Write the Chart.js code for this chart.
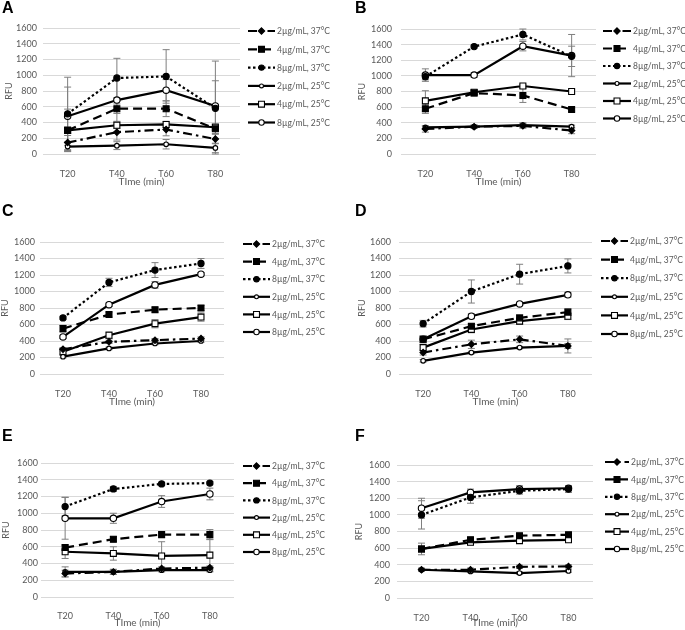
<!DOCTYPE html>
<html>
<head>
<meta charset="utf-8">
<script src="https://cdn.jsdelivr.net/npm/chart.js@4.4.0/dist/chart.umd.min.js"></script>
<style>
  body { margin: 0; background: #fff; width: 685px; height: 630px; position: relative; overflow: hidden; }
  .panel { position: absolute; width: 342px; height: 210px; }
  .letter { position: absolute; font-family: "Liberation Sans", Arial, sans-serif; font-weight: bold; font-size: 16px; line-height: 16px; color: #000; }
</style>
</head>
<body>
<canvas id="chartA" class="panel" width="342" height="210" style="left:0;top:0"></canvas>
<canvas id="chartB" class="panel" width="342" height="210" style="left:343px;top:0"></canvas>
<canvas id="chartC" class="panel" width="342" height="210" style="left:0;top:210px"></canvas>
<canvas id="chartD" class="panel" width="342" height="210" style="left:343px;top:210px"></canvas>
<canvas id="chartE" class="panel" width="342" height="210" style="left:0;top:420px"></canvas>
<canvas id="chartF" class="panel" width="342" height="210" style="left:343px;top:420px"></canvas>
<div class="letter" style="left:2px;top:0">A</div>
<div class="letter" style="left:355px;top:0">B</div>
<div class="letter" style="left:2px;top:203px">C</div>
<div class="letter" style="left:355px;top:203px">D</div>
<div class="letter" style="left:2px;top:428px">E</div>
<div class="letter" style="left:355px;top:428px">F</div>
<script>
const timePoints = ["T20", "T40", "T60", "T80"];
const seriesNames = [
	"2µg/mL, 37°C",
	"4µg/mL, 37°C",
	"8µg/mL, 37°C",
	"2µg/mL, 25°C",
	"4µg/mL, 25°C",
	"8µg/mL, 25°C",
];

// mean RFU, one row per series (same order as seriesNames)
const meansA = [
	[145, 277, 311, 190],
	[300, 575, 575, 320],
	[510, 965, 985, 580],
	[94, 106, 124, 77],
	[300, 365, 375, 340],
	[480, 685, 810, 610],
];
const errA = [
	[90, 100, 80, 60],
	[270, 60, 100, 60],
	[465, 250, 340, 600],
	[60, 50, 60, 60],
	[40, 40, 40, 40],
	[370, 270, 135, 320],
];

const meansB = [
	[320, 350, 360, 300],
	[580, 780, 750, 570],
	[990, 1375, 1530, 1250],
	[340, 350, 370, 350],
	[680, 790, 870, 800],
	[1010, 1010, 1380, 1260],
];
const errB = [
	[40, 20, 30, 40],
	[60, 40, 90, 20],
	[40, 20, 70, 130],
	[20, 20, 30, 20],
	[130, 30, 20, 20],
	[80, 30, 60, 270],
];

const meansC = [
	[300, 390, 410, 430],
	[550, 720, 780, 800],
	[680, 1110, 1260, 1340],
	[210, 310, 370, 400],
	[270, 470, 610, 690],
	[450, 840, 1080, 1210],
];
const errC = [
	[20, 20, 20, 20],
	[40, 30, 30, 30],
	[20, 50, 90, 60],
	[15, 15, 15, 15],
	[30, 40, 50, 50],
	[20, 20, 40, 20],
];

const meansD = [
	[260, 360, 420, 340],
	[420, 580, 680, 750],
	[610, 1000, 1210, 1310],
	[160, 260, 320, 340],
	[320, 540, 640, 700],
	[420, 700, 850, 960],
];
const errD = [
	[30, 50, 40, 30],
	[40, 30, 40, 40],
	[40, 140, 120, 85],
	[15, 15, 15, 85],
	[40, 40, 40, 40],
	[40, 30, 20, 30],
];

const meansE = [
	[280, 300, 340, 350],
	[590, 690, 745, 745],
	[1080, 1290, 1350, 1360],
	[300, 300, 320, 320],
	[540, 520, 490, 500],
	[940, 940, 1140, 1230],
];
const errE = [
	[40, 30, 20, 20],
	[30, 30, 30, 60],
	[110, 30, 20, 20],
	[60, 30, 20, 20],
	[80, 80, 170, 190],
	[250, 60, 70, 70],
];

const meansF = [
	[340, 340, 375, 380],
	[590, 700, 750, 760],
	[1000, 1210, 1290, 1310],
	[340, 320, 300, 325],
	[590, 670, 690, 700],
	[1080, 1270, 1310, 1320],
];
const errF = [
	[20, 20, 20, 20],
	[30, 30, 20, 20],
	[170, 70, 40, 40],
	[15, 15, 15, 15],
	[70, 30, 20, 20],
	[120, 40, 40, 30],
];

// series styling
const dashes = [[9, 4, 2.5, 4], [9, 5], [2.5, 2.5], [], [], []];
const markers = ["rectRot", "rect", "circle", "circle", "rect", "circle"];
const radii = [3.2, 4.2, 3.1, 2.3, 4.2, 3.2];
const fills = ["#000", "#000", "#000", "#fff", "#fff", "#fff"];

const labelGrey = "#595959";
const fontFamily = "Lato, 'Open Sans', sans-serif";

function drawMarker(ctx, style, r, fill, x, y) {
	ctx.save();
	ctx.setLineDash([]);
	ctx.fillStyle = fill;
	ctx.strokeStyle = "#000";
	ctx.lineWidth = 1.1;
	ctx.beginPath();
	if (style === "circle") {
		ctx.arc(x, y, r * 0.85, 0, Math.PI * 2);
	} else if (style === "rect") {
		const s = r * Math.SQRT1_2;
		ctx.rect(x - s, y - s, s * 2, s * 2);
	} else {
		ctx.moveTo(x, y - r);
		ctx.lineTo(x + r, y);
		ctx.lineTo(x, y + r);
		ctx.lineTo(x - r, y);
		ctx.closePath();
	}
	ctx.fill();
	ctx.stroke();
	ctx.restore();
}

// vertical error bars, drawn under the lines
const errorBars = {
	id: "errorBars",
	beforeDatasetsDraw(chart) {
		const { ctx } = chart;
		const yScale = chart.scales.y;
		ctx.save();
		ctx.strokeStyle = "#7f7f7f";
		ctx.lineWidth = 1;
		chart.data.datasets.forEach((ds, i) => {
			chart.getDatasetMeta(i).data.forEach((pt, j) => {
				const e = ds.errors[j];
				const top = yScale.getPixelForValue(ds.data[j] + e);
				const bot = yScale.getPixelForValue(Math.max(0, ds.data[j] - e));
				ctx.beginPath();
				ctx.moveTo(pt.x, top);
				ctx.lineTo(pt.x, bot);
				ctx.moveTo(pt.x - 3.5, top);
				ctx.lineTo(pt.x + 3.5, top);
				ctx.moveTo(pt.x - 3.5, bot);
				ctx.lineTo(pt.x + 3.5, bot);
				ctx.stroke();
			});
		});
		ctx.restore();
	},
};

// legend on the right: line sample with marker, then label
const sideLegend = {
	id: "sideLegend",
	afterDraw(chart, args, opts) {
		const { ctx } = chart;
		chart.data.datasets.forEach((ds, i) => {
			const y = opts.y + i * opts.dy;
			ctx.save();
			ctx.strokeStyle = "#000";
			ctx.lineWidth = 2.2;
			ctx.setLineDash(ds.borderDash);
			ctx.beginPath();
			ctx.moveTo(opts.x, y);
			ctx.lineTo(opts.x + opts.w, y);
			ctx.stroke();
			ctx.restore();
			drawMarker(ctx, ds.pointStyle, ds.pointRadius, ds.pointBackgroundColor, opts.x + opts.w / 2, y);
			ctx.save();
			ctx.fillStyle = labelGrey;
			ctx.font = "8.5px " + fontFamily;
			ctx.textBaseline = "middle";
			ctx.fillText(ds.label, opts.x + opts.w + 2, y + 0.5);
			ctx.restore();
		});
	},
};

function makePanel(id, means, errs, g) {
	return new Chart(document.getElementById(id), {
		type: "line",
		data: {
			labels: timePoints,
			datasets: seriesNames.map((name, i) => ({
				label: name,
				data: means[i],
				errors: errs[i],
				borderColor: "#000",
				borderWidth: 2.2,
				borderDash: dashes[i],
				pointStyle: markers[i],
				pointRadius: radii[i],
				pointBackgroundColor: fills[i],
				pointBorderColor: "#000",
				pointBorderWidth: 1.1,
				tension: 0,
				fill: false,
			})),
		},
		options: {
			responsive: false,
			animation: false,
			events: [],
			layout: { padding: { left: g.padL, right: g.padR, top: g.top, bottom: g.padB } },
			plugins: {
				legend: { display: false },
				tooltip: { enabled: false },
				sideLegend: g.legend,
			},
			scales: {
				x: {
					offset: true,
					grid: { display: false },
					border: { display: false },
					ticks: { color: labelGrey, font: { size: 9, family: fontFamily }, padding: g.xTickPad, maxRotation: 0 },
					title: { display: true, text: "TIme (min)", color: labelGrey, font: { size: 10, family: fontFamily }, padding: 0 },
					afterFit: (s) => { s.height = g.xH; },
				},
				y: {
					min: 0,
					max: 1600,
					ticks: { stepSize: 200, color: labelGrey, font: { size: 9, family: fontFamily }, padding: g.yTickPad, callback: (v) => String(v) },
					grid: { color: "#d9d9d9", drawTicks: false, lineWidth: 1 },
					border: { display: false },
					title: { display: true, text: "RFU", color: labelGrey, font: { size: 9, family: fontFamily }, padding: { top: g.yTitlePad, bottom: 0 } },
					afterFit: (s) => { s.width = g.yW; },
				},
			},
		},
		plugins: [errorBars, sideLegend],
	});
}

makePanel("chartA", meansA, errA, {
	padL: 0, yW: 43, padR: 102, top: 28, padB: 22, xH: 34, yTickPad: 6, yTitlePad: 4, xTickPad: 7,
	legend: { x: 248, w: 27, y: 31, dy: 18.3 },
});
makePanel("chartB", meansB, errB, {
	padL: 10, yW: 48, padR: 89, top: 29, padB: 22, xH: 34, yTickPad: 9, yTitlePad: 4, xTickPad: 7,
	legend: { x: 260, w: 28, y: 31, dy: 17.5 },
});
makePanel("chartC", meansC, errC, {
	padL: 0, yW: 40, padR: 118, top: 32, padB: 12, xH: 34, yTickPad: 5, yTitlePad: 0, xTickPad: 7,
	legend: { x: 243, w: 27, y: 34, dy: 17.6 },
});
makePanel("chartD", meansD, errD, {
	padL: 8, yW: 48, padR: 93, top: 32, padB: 12, xH: 34, yTickPad: 8, yTitlePad: 6, xTickPad: 7,
	legend: { x: 258, w: 27, y: 31, dy: 18.6 },
});
makePanel("chartE", meansE, errE, {
	padL: 0, yW: 41, padR: 108, top: 43, padB: 1, xH: 32, yTickPad: 3, yTitlePad: 1, xTickPad: 6,
	legend: { x: 243, w: 27, y: 46, dy: 17.2 },
});
makePanel("chartF", meansF, errF, {
	padL: 8, yW: 46, padR: 92, top: 45, padB: 1, xH: 31, yTickPad: 7, yTitlePad: 3, xTickPad: 7,
	legend: { x: 262, w: 24, y: 42, dy: 17.4 },
});
</script>
</body>
</html>
